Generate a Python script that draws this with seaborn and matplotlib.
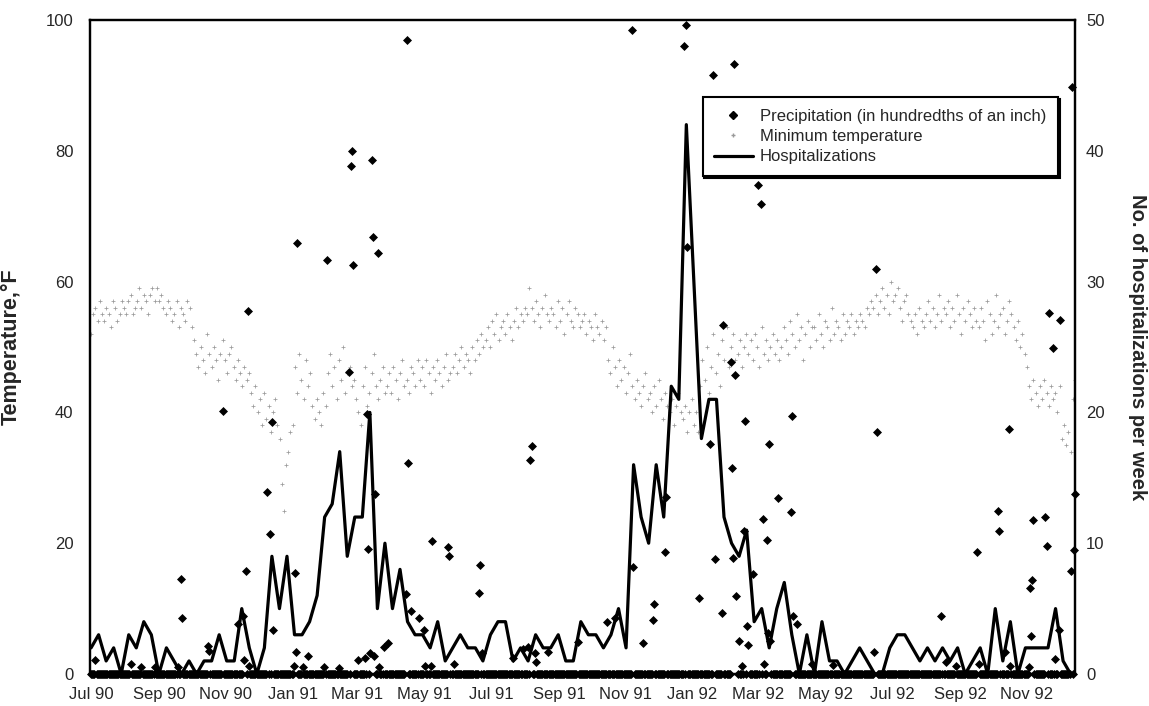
import numpy as np
import pandas as pd
import seaborn as sns
import matplotlib.pyplot as plt
from matplotlib.lines import Line2D

# Weekly hospitalizations (right axis), Jul 1990 - Dec 1992
hosp_weekly = [2, 3, 1, 2, 0, 3, 2, 4, 3, 0,
               2, 1, 0, 1, 0, 1, 1, 3, 1, 1,
               5, 2, 0, 2, 9, 5, 9, 3, 3, 4,
               6, 12, 13, 17, 9, 12, 12, 20, 5, 10,
               5, 8, 4, 3, 3, 2, 4, 1, 2, 3,
               2, 2, 1, 3, 4, 4, 1, 2, 1, 3,
               2, 2, 3, 1, 1, 4, 3, 3, 2, 3,
               5, 2, 16, 12, 10, 16, 12, 22, 21, 42,
               30, 18, 21, 21, 12, 10, 9, 11, 4, 5,
               2, 5, 7, 3, 0, 3, 0, 4, 1, 1,
               0, 1, 2, 1, 0, 0, 2, 3, 3, 2,
               1, 2, 1, 2, 1, 2, 0, 1, 2, 0,
               5, 1, 4, 0, 2, 2, 2, 2, 5, 1, 0]
hosp_last_day = 894  # last weekly point, days after 1 Jul 1990

# Minimum temperature (deg F), every second day from 1 Jul 1990
temp_part1 = [52, 55, 56, 54, 57, 55, 54, 56, 55, 53, 57, 56, 54, 55, 57,
              56, 55, 57, 58, 55, 56, 57, 59, 56, 58, 57, 55, 58, 59, 57,
              59, 57, 58, 56, 55, 57, 56, 54, 55, 57, 53, 56, 55, 54, 57,
              56, 53, 51, 49, 47, 50, 48, 46, 52, 49, 47, 50, 48, 45, 49,
              51, 48, 46, 49, 50, 47, 45, 48, 46, 44, 47, 45, 46, 43, 41,
              44, 40, 42, 38, 43, 39, 41, 37, 40, 42, 38, 36, 29, 25, 32,
              34, 37, 38, 47, 43, 49, 45, 42, 48, 44, 46, 41, 39, 42, 40,
              38, 43, 41, 46, 49, 44, 47, 42, 48, 45, 50, 43, 46, 47, 44,
              45, 42, 40, 38, 44, 47, 41, 43, 46, 49, 44, 42, 45, 47, 43,
              44, 46, 43, 47, 45, 42, 46, 48, 44, 45, 43, 47, 46, 44, 48]
temp_part2 = [45, 47, 44, 48, 46, 43, 47, 45, 48, 46, 44, 47, 49, 45, 46,
              47, 49, 46, 48, 50, 47, 49, 48, 46, 50, 48, 51, 49, 52, 50,
              51, 53, 50, 54, 52, 55, 51, 53, 54, 52, 55, 53, 51, 54, 56,
              53, 55, 54, 56, 55, 59, 56, 54, 57, 55, 53, 56, 58, 55, 54,
              56, 55, 53, 57, 54, 56, 52, 55, 57, 54, 53, 56, 55, 53, 54,
              55, 52, 54, 53, 51, 55, 53, 52, 54, 51, 53, 48, 46, 50, 47,
              44, 48, 45, 47, 43, 46, 49, 44, 42, 45, 43, 41, 44, 46, 42,
              43, 40, 44, 41, 45, 42, 39, 43, 41, 40, 42, 38, 41, 43, 40,
              39, 41, 37, 40, 42, 38, 40, 37, 44, 48, 45, 50, 43, 47, 52,
              46, 49, 44, 51, 48, 53, 47, 50, 52, 48, 49, 51, 47, 50, 52]
temp_part3 = [49, 51, 48, 52, 50, 47, 53, 49, 51, 48, 50, 52, 49, 51, 48,
              50, 53, 51, 49, 54, 52, 50, 55, 51, 53, 48, 52, 54, 50, 53,
              53, 51, 55, 52, 50, 54, 53, 51, 56, 52, 54, 53, 51, 55, 52,
              54, 53, 55, 52, 54, 53, 55, 54, 53, 56, 55, 57, 56, 58, 55,
              57, 59, 56, 58, 55, 60, 57, 58, 59, 56, 54, 57, 58, 55, 54,
              53, 55, 52, 56, 54, 53, 55, 57, 54, 56, 53, 55, 58, 54, 56,
              55, 57, 53, 56, 54, 58, 55, 52, 56, 54, 57, 55, 53, 56, 54,
              53, 56, 54, 51, 57, 55, 52, 54, 58, 53, 55, 56, 52, 54, 57,
              55, 53, 51, 54, 50, 52, 49, 47, 44, 42, 45, 43, 41, 44, 42,
              45, 43, 41, 44, 42, 43, 40, 44, 36, 38, 35, 37, 34, 42, 45]

# Daily precipitation (hundredths of an inch); days not listed had none
wet_days = [4, 36, 46, 58, 79, 82, 83, 107, 108, 120,
            134, 139, 140, 141, 143, 144, 161, 163, 165, 166,
            185, 186, 187, 188, 193, 198, 213, 215, 226, 235,
            237, 238, 239, 244, 250, 252, 253, 255, 256, 257,
            258, 259, 262, 263, 267, 271, 287, 288, 289, 292,
            299, 304, 305, 310, 311, 326, 327, 331, 354, 355,
            357, 385, 394, 399, 401, 402, 405, 406, 417, 444,
            471, 478, 494, 495, 504, 513, 514, 524, 525, 541,
            543, 544, 555, 565, 568, 569, 576, 577, 584, 585,
            586, 587, 588, 589, 591, 594, 596, 597, 599, 600,
            604, 609, 611, 613, 614, 617, 618, 619, 620, 627,
            639, 640, 641, 644, 658, 677, 715, 716, 717, 776,
            780, 789, 809, 810, 828, 829, 834, 838, 839, 856,
            857, 858, 859, 860, 871, 872, 874, 878, 880, 883,
            884, 894, 895, 897, 898]
wet_amounts = [2.2, 1.5, 1.0, 1.0, 1.0, 14.5, 8.6, 4.3, 3.5, 40.2,
               7.7, 8.8, 2.2, 15.7, 55.5, 1.3, 27.8, 21.4, 38.6, 6.7,
               1.3, 15.4, 3.3, 65.9, 1.1, 2.7, 1.1, 63.3, 0.9, 46.2,
               77.6, 80.0, 62.6, 2.2, 2.4, 39.7, 19.1, 3.2, 78.6, 66.8,
               2.7, 27.6, 64.3, 1.1, 4.2, 4.7, 12.3, 96.9, 32.3, 9.7,
               8.5, 6.8, 1.3, 1.3, 20.4, 19.4, 18.0, 1.5, 12.4, 16.7,
               3.2, 2.4, 3.9, 4.2, 32.7, 34.9, 3.2, 1.9, 3.3, 4.9,
               8.0, 8.6, 98.4, 16.3, 4.7, 8.3, 10.7, 18.7, 27.0, 96.0,
               99.3, 65.3, 11.6, 35.1, 91.6, 17.6, 9.3, 53.3, 47.7, 31.5,
               17.8, 93.2, 45.7, 11.9, 5.1, 1.3, 21.9, 38.7, 7.4, 4.4,
               15.3, 74.7, 71.9, 23.7, 1.6, 20.5, 6.2, 35.1, 5.0, 26.9,
               24.8, 39.4, 8.8, 7.7, 1.5, 1.4, 3.3, 62.0, 37.0, 8.9,
               1.9, 1.3, 18.7, 1.6, 24.9, 21.9, 3.3, 37.5, 1.3, 1.0,
               13.1, 5.8, 14.4, 23.5, 24.0, 19.6, 55.2, 49.8, 2.3, 6.8,
               54.1, 15.8, 89.7, 18.9, 27.6]
n_days = 899

start = pd.Timestamp('1990-07-01')
tick_dates = pd.date_range('1990-07-01', '1992-11-01', freq='2MS')
tick_pos = (tick_dates - start).days
tick_labels = tick_dates.strftime('%b %y')

temp_vals = temp_part1 + temp_part2 + temp_part3
temp_days = np.arange(0, 2 * len(temp_vals), 2)

precip = np.zeros(n_days)
precip[wet_days] = wet_amounts
precip_days = np.arange(n_days)

hosp_days = np.linspace(0, hosp_last_day, len(hosp_weekly))

sns.set_style('white')
plt.rcParams['font.family'] = ['Liberation Sans', 'DejaVu Sans']

fig = plt.figure(figsize=(11.49, 7.06), dpi=100)
ax = fig.add_axes([0.0783, 0.0453, 0.8573, 0.9264])
ax2 = ax.twinx()

temp_color = '#9a9a9a'
sns.scatterplot(x=temp_days, y=temp_vals, ax=ax, marker='+', color=temp_color,
                s=7, linewidth=0.55, zorder=2)
sns.scatterplot(x=precip_days, y=precip, ax=ax, marker='D', color='black',
                edgecolor='black', s=21, linewidth=0, zorder=3, clip_on=False)
sns.lineplot(x=hosp_days, y=hosp_weekly, ax=ax2, color='black', linewidth=2.3,
             errorbar=None, clip_on=False)

ax.set_xlim(-1, 898)
ax.set_ylim(0, 100)
ax2.set_ylim(0, 50)
ax.set_yticks(range(0, 101, 20))
ax2.set_yticks(range(0, 51, 10))
ax.set_xticks(tick_pos)
ax.set_xticklabels(tick_labels)
ax.set_xlabel('')

ax.tick_params(axis='both', length=0, labelsize=12)
ax.tick_params(axis='y', pad=12)
ax.tick_params(axis='x', pad=9)
ax2.tick_params(axis='y', length=0, labelsize=12, pad=8)

ax.set_ylabel('Temperature,°F', fontsize=15.5, fontweight='bold')
ax.yaxis.set_label_coords(-0.069, 0.5)
ax2.set_ylabel('No. of hospitalizations per week', fontsize=14.5,
               fontweight='bold', rotation=270, va='center', ha='center')
ax2.yaxis.set_label_coords(1.063, 0.5)

for a in (ax, ax2):
    for sp in a.spines.values():
        sp.set_color('black')
        sp.set_linewidth(1.6)

handles = [
    Line2D([], [], marker='D', color='black', linestyle='none', markersize=4.5),
    Line2D([], [], marker='+', color=temp_color, linestyle='none', markersize=3),
    Line2D([], [], color='black', linewidth=2.3),
]
labels = ['Precipitation (in hundredths of an inch)', 'Minimum temperature',
          'Hospitalizations']
leg = ax2.legend(handles, labels, loc='upper left', bbox_to_anchor=(0.622, 0.882),
                 borderaxespad=0, frameon=True, fancybox=False, edgecolor='black',
                 fontsize=12, handlelength=2.3, labelspacing=0.32, borderpad=0.7,
                 handletextpad=0.42,
                 shadow={'color': 'black', 'alpha': 1, 'ox': 1.3, 'oy': -1.3})
leg.get_frame().set_linewidth(1.5)
leg.get_frame().set_alpha(1)

fig.savefig('out.png', dpi=100, facecolor='white')
